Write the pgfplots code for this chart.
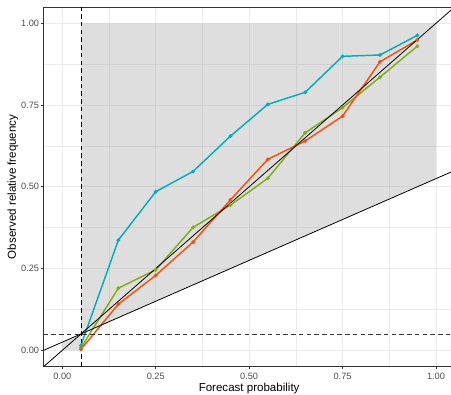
\documentclass[border=0pt]{standalone}
\usepackage{fontspec}
\setmainfont{Liberation Sans}
\usepackage{pgfplots}
\pgfplotsset{compat=1.18}
\definecolor{cy}{HTML}{00AFBB}
\definecolor{orr}{HTML}{FC4E07}
\definecolor{gr}{HTML}{7FAE14}
\definecolor{grid92}{HTML}{EBEBEB}
\definecolor{grey20}{HTML}{333333}
\definecolor{grey30}{HTML}{4D4D4D}
\begin{document}
\begin{tikzpicture}
\begin{axis}[
  scale only axis, width=308.3pt, height=269.8pt,
  xmin=-0.05, xmax=1.05, ymin=-0.05, ymax=1.05,
  xtick={0,0.25,0.5,0.75,1}, xticklabels={0.00,0.25,0.50,0.75,1.00},
  ytick={0,0.25,0.5,0.75,1}, yticklabels={0.00,0.25,0.50,0.75,1.00},
  minor xtick={0.125,0.375,0.625,0.875},
  minor ytick={0.125,0.375,0.625,0.875},
  grid=both,
  major grid style={color=grid92, line width=0.55pt},
  minor grid style={color=grid92, line width=0.28pt},
  axis line style={color=grey20, line width=0.55pt},
  tick align=outside, major tick length=2pt, minor tick length=0pt,
  tick style={color=grey20, line width=0.55pt},
  tick pos=left,
  ticklabel style={font=\fontsize{6.9}{8}\selectfont, text=grey30},
  xticklabel style={anchor=north, inner sep=0pt, yshift=-2.5pt},
  yticklabel style={anchor=east, inner sep=0pt, xshift=-1.2pt},
  xlabel={Forecast probability},
  ylabel={Observed relative frequency},
  label style={font=\fontsize{8.66}{10}\selectfont},
  xlabel style={at={([yshift=-18.8pt]axis description cs:0.5,0)}, anchor=base},
  ylabel style={at={([xshift=-20.7pt]axis description cs:0,0.5)}, anchor=base},
]
\addplot[fill=gray, fill opacity=0.26, draw=none, forget plot] coordinates {(0.05,0.05) (0.05,1) (1,1) (1,0.525)} -- cycle;
\addplot[fill=gray, fill opacity=0.26, draw=none, forget plot] coordinates {(0,0) (0.05,0) (0.05,0.05) (0,0.025)} -- cycle;
\addplot[gr, line width=1.1pt, mark=*, mark size=0.8pt] coordinates {
(0.05,0.008) (0.15,0.19) (0.25,0.246) (0.35,0.376) (0.45,0.444) (0.55,0.526) (0.65,0.665) (0.75,0.742) (0.85,0.835) (0.95,0.93)};
\addplot[orr, line width=1.1pt, mark=*, mark size=0.8pt] coordinates {
(0.05,0.003) (0.15,0.141) (0.25,0.229) (0.35,0.331) (0.45,0.46) (0.55,0.584) (0.65,0.640) (0.75,0.716) (0.85,0.882) (0.95,0.949)};
\addplot[cy, line width=1.1pt, mark=*, mark size=0.8pt] coordinates {
(0.05,0.015) (0.15,0.337) (0.25,0.485) (0.35,0.547) (0.45,0.655) (0.55,0.752) (0.65,0.789) (0.75,0.899) (0.85,0.903) (0.95,0.963)};
\addplot[black, line width=0.6pt] coordinates {(-0.05,-0.05) (1.05,1.05)};
\addplot[black, line width=0.6pt] coordinates {(-0.05,0) (1.05,0.55)};
\addplot[black, line width=0.65pt, dash pattern=on 3.4pt off 2.4pt] coordinates {(0.05,-0.05) (0.05,1.05)};
\addplot[black!80, line width=0.65pt, dash pattern=on 3.4pt off 2.4pt] coordinates {(-0.05,0.05) (1.05,0.05)};
\end{axis}
\pgfresetboundingbox
\path[use as bounding box] ([shift={(-32.7pt,-20.5pt)}]current axis.south west) rectangle ([shift={(305.55pt,275pt)}]current axis.south west);
\end{tikzpicture}
\end{document}
